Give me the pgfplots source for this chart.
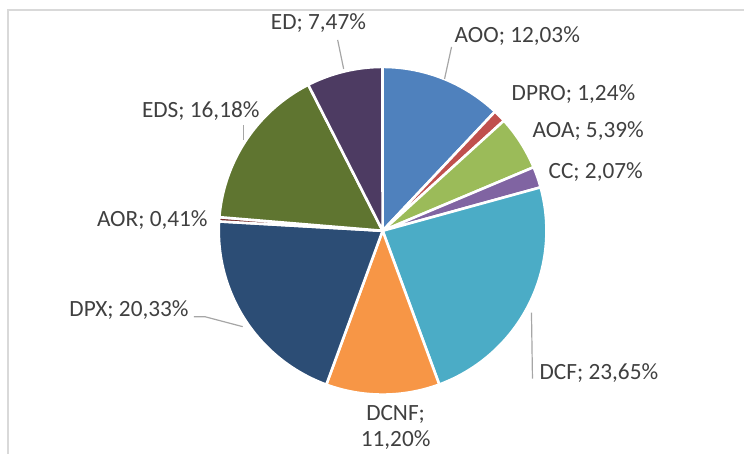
\documentclass[border=0pt]{standalone}
\usepackage{pgfplots}
\usepackage{pgfplotstable}
\pgfplotsset{compat=1.18}
\usepackage{fontspec}
\setmainfont{Carlito}

\definecolor{c0}{HTML}{4F81BD}
\definecolor{c1}{HTML}{C0504D}
\definecolor{c2}{HTML}{9BBB59}
\definecolor{c3}{HTML}{8064A2}
\definecolor{c4}{HTML}{4BACC6}
\definecolor{c5}{HTML}{F79646}
\definecolor{c6}{HTML}{2C4D75}
\definecolor{c7}{HTML}{772C2A}
\definecolor{c8}{HTML}{5F7530}
\definecolor{c9}{HTML}{4D3B62}
\definecolor{txt}{HTML}{404040}
\definecolor{leader}{HTML}{A6A6A6}
\definecolor{frame}{HTML}{D9D9D9}

\newcommand\lblfont{\fontsize{23.3bp}{28bp}\selectfont}
\tikzset{lbl/.style={font=\lblfont, text=txt, inner sep=0pt}}

\pgfplotstableread{
label pct
AOO  12.03
DPRO 1.24
AOA  5.39
CC   2.07
DCF  23.65
DCNF 11.20
DPX  20.33
AOR  0.41
EDS  16.18
ED   7.47
}\piedata
\pgfplotstablecreatecol[create col/expr accum={\pgfmathaccuma + \thisrow{pct}}{0}]{cum}\piedata

\def\cx{383}
\def\cy{223}
\def\rr{164}

\begin{document}
\begin{tikzpicture}
\begin{axis}[
  scale only axis,
  width=745bp, height=454bp,
  xmin=0, xmax=745, ymin=0, ymax=454,
  hide axis, clip=false,
]
% frame
\draw[frame, line width=1.5bp] (8,0) -- (8,444) -- (745,444);

\pgfplotsforeachungrouped \i in {0,...,9}{%
  \pgfplotstablegetelem{\i}{pct}\of\piedata \let\p=\pgfplotsretval
  \pgfplotstablegetelem{\i}{cum}\of\piedata \let\c=\pgfplotsretval
  \pgfmathsetmacro\astart{90-3.6*\c}%
  \pgfmathsetmacro\aend{90-3.6*(\c-\p)}%
  \edef\temp{\noexpand\addplot[fill=c\i, draw=white, line width=2.6bp,
     domain=\astart:\aend, samples=90]
     ({\cx+\rr*cos(x)},{\cy+\rr*sin(x)}) -- (\cx,\cy) -- cycle;}%
  \temp
}

% leader lines
\draw[leader, line width=1.2bp] (452,407) -- (445,375);
\draw[leader, line width=1.2bp] (338,414) -- (344,385);
\draw[leader, line width=1.2bp] (244,329) -- (244,314);
\draw[leader, line width=1.2bp] (194,137) -- (205,137) -- (243,127);
\draw[leader, line width=1.2bp] (532,141) -- (533,75);

% labels
\node[lbl, anchor=base west] at (455,411) {AOO; 12,03\%};
\node[lbl, anchor=base west] at (512,353) {DPRO; 1,24\%};
\node[lbl, anchor=base west] at (533,316) {AOA; 5,39\%};
\node[lbl, anchor=base west] at (549,275) {CC; 2,07\%};
\node[lbl, anchor=base west] at (540,74) {DCF; 23,65\%};
\node[lbl, anchor=base] at (396,33) {DCNF;};
\node[lbl, anchor=base] at (396,7) {11,20\%};
\node[lbl, anchor=base east] at (189,137) {DPX; 20,33\%};
\node[lbl, anchor=base east] at (208,227) {AOR; 0,41\%};
\node[lbl, anchor=base east] at (260,336) {EDS; 16,18\%};
\node[lbl, anchor=base west] at (271,424) {ED; 7,47\%};

\path (0,0) rectangle (745,454);
\end{axis}
\end{tikzpicture}
\end{document}
